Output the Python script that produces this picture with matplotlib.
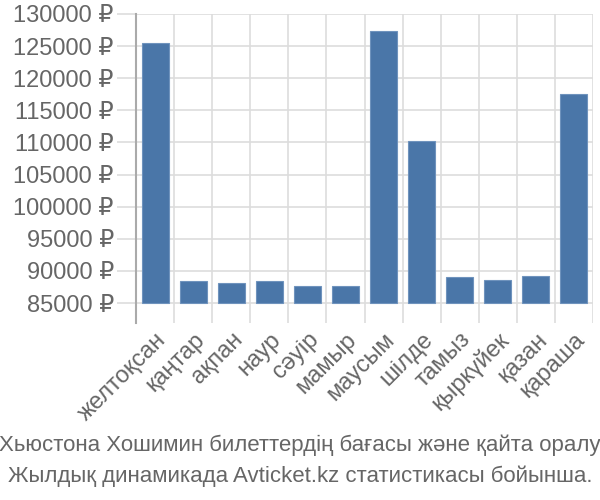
import matplotlib
matplotlib.use("Agg")
import matplotlib.pyplot as plt
import numpy as np

plt.rcParams['font.family'] = ['Liberation Sans', 'DejaVu Sans']

months = ["желтоқсан", "қаңтар", "ақпан", "наур", "сәуір", "мамыр",
          "маусым", "шілде", "тамыз", "қыркүйек", "қазан", "қараша"]
prices = [125500, 88500, 88200, 88400, 87700, 87700,
          127400, 110200, 89000, 88600, 89200, 117600]
yticks = list(range(85000, 130001, 5000))
caption = ["Хьюстона Хошимин билеттердің бағасы және қайта оралу",
           "Жылдық динамикада Avticket.kz статистикасы бойынша."]

base = 85000
fig = plt.figure(figsize=(6, 5), dpi=100)
ax = fig.add_axes([136/600, 1-323/500, (593-136)/600, (323-14)/500])

x = np.arange(len(months))
ax.bar(x, [p - base for p in prices], bottom=base, width=0.71,
       color="#4a76a8", edgecolor="#6f93bd", linewidth=0.8, zorder=3)

ax.set_xlim(-0.5, len(months) - 0.5)
ax.set_ylim(81900, 130000)
ax.set_yticks(yticks)
ax.set_yticklabels([f"{v} ₽" for v in yticks])
ax.set_xticks(x)
ax.set_xticklabels(months, rotation=45, ha="right", va="top",
                   rotation_mode="anchor")

ax.grid(False)
for v in yticks:
    ax.axhline(v, color="#dddddd", linewidth=1.2, zorder=1)
for b in np.arange(-0.5, len(months), 1):
    ax.axvline(b, color="#dddddd", linewidth=1.2, zorder=1)

for s in ["top", "right", "bottom"]:
    ax.spines[s].set_visible(False)
ax.spines["left"].set_color("#aaaaaa")
ax.spines["left"].set_linewidth(1.5)

ax.tick_params(axis="y", length=14, color="#dddddd", width=1.2,
               labelsize=17, labelcolor="#666666", pad=2)
ax.tick_params(axis="x", which="major", length=0, labelsize=17,
               labelcolor="#666666", pad=4)

fig.text(0.5, 1-445/500, caption[0], ha="center", va="center",
         fontsize=16, color="#666666")
fig.text(0.5, 1-476/500, caption[1], ha="center", va="center",
         fontsize=16, color="#666666")

fig.savefig("out.png", dpi=100)
